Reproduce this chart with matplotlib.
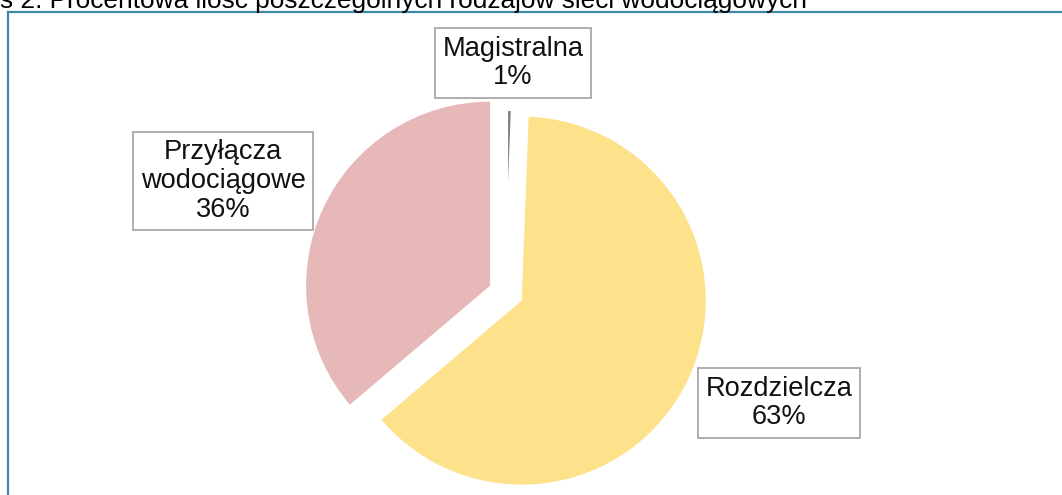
import matplotlib
matplotlib.use('Agg')
from matplotlib import pyplot as plt
from matplotlib.lines import Line2D

# Data
labels = ['Magistralna', 'Rozdzielcza', 'Przyłącza\nwodociągowe']
values = [0.6, 63.2, 36.2]
colors = ['#7f7f7f', '#fee18b', '#e6b8b7']

title = 's 2. Procentowa ilość poszczególnych rodzajów sieci wodociągowych'

W, H = 1062, 495
R = 184
fig = plt.figure(figsize=(W / 100, H / 100), dpi=100)
ax = fig.add_axes([0, 0, 1, 1])

font = ['Liberation Sans', 'DejaVu Sans']

# explode is in data units (pixels here)
wedges, _ = ax.pie(values, colors=colors, explode=[0, 17.5, 17.5],
                   startangle=90, counterclock=False, center=(506, 202),
                   radius=R, frame=True, wedgeprops=dict(linewidth=0))
ax.set_xlim(0, W)
ax.set_ylim(0, H)
ax.axis('off')
# the tiny slice looks like a thin line in the original
wedges[0].set_edgecolor('white')
wedges[0].set_linewidth(3)

# label boxes
total = sum(values)
label_pos = [(513, 432), (779, 92), (223, 314)]
for lab, val, (x, y) in zip(labels, values, label_pos):
    txt = '{}\n{:.0f}%'.format(lab, val / total * 100)
    ax.text(x, y, txt, ha='center', va='center', fontsize=19.6,
            family=font, color='#111111', linespacing=1.13,
            bbox=dict(boxstyle='square,pad=0.27', facecolor='white',
                      edgecolor='#a8a8a8', linewidth=1.3))

# cut-off title at the top
fig.text(0.0, 1 - 8 / H, title, ha='left', va='baseline', fontsize=18.9,
         family=font, color='black')

# chart frame (only left and top edges are visible)
frame_col = '#3f88a8'
fig.add_artist(Line2D([8 / W, 8 / W], [0, 1 - 12 / H], color=frame_col,
                      linewidth=1.6, transform=fig.transFigure))
fig.add_artist(Line2D([8 / W, 1], [1 - 12 / H, 1 - 12 / H], color=frame_col,
                      linewidth=1.6, transform=fig.transFigure))

fig.savefig('out.png', dpi=100)
